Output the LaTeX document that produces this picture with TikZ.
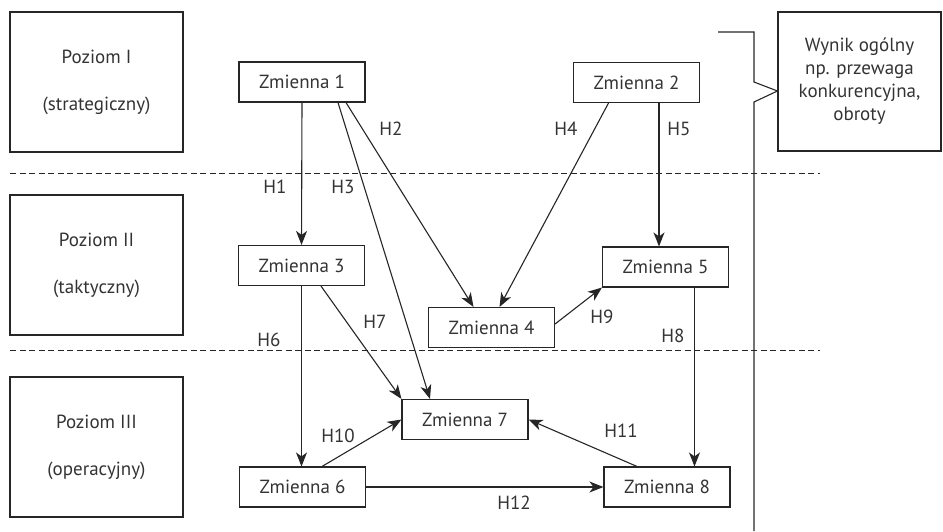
\documentclass[tikz,border=0pt]{standalone}
\usepackage{fontspec}
\setmainfont{PT Sans}
\usetikzlibrary{arrows.meta,calc}
\definecolor{ink}{HTML}{262626}
\definecolor{txt}{HTML}{333333}
\begin{document}
\begin{tikzpicture}[x=1pt,y=-1pt,
  every node/.style={font=\fontsize{19}{23}\selectfont, text=txt},
  varbox/.style={draw=ink, line width=1.1pt, minimum width=126pt, minimum height=40pt, inner sep=0pt},
  levelbox/.style={draw=ink, line width=1.1pt, minimum width=173pt, minimum height=140pt, inner sep=0pt, align=center},
  arr/.style={draw=ink, line width=1.1pt, -{Stealth[length=14pt,width=11pt,inset=4pt]}},
  sep/.style={draw=ink, line width=1pt, dash pattern=on 6pt off 3.5pt},
  hlabel/.style={inner sep=0pt}]
\useasboundingbox (0,0) rectangle (943,531);

% level boxes
\node[levelbox] (l1) at (96.5,82)  {Poziom I\\[24pt](strategiczny)};
\node[levelbox] (l2) at (96.5,265) {Poziom II\\[24pt](taktyczny)};
\node[levelbox] (l3) at (96.5,447) {Poziom III\\[24pt](operacyjny)};

% level separators
\coordinate (s1a) at (10,173);  \coordinate (s1b) at (820,173);
\coordinate (s2a) at (10,350);  \coordinate (s2b) at (820,350);
\draw[sep] (s1a) -- (s1b);
\draw[sep] (s2a) -- (s2b);

% overall result
\node[draw=ink, line width=1.1pt, minimum width=163pt, minimum height=139pt, inner sep=0pt, align=center]
  (wynik) at (859.5,81.5) {Wynik ogólny\\np. przewaga\\konkurencyjna,\\obroty};

% bracket leading to the overall result
\coordinate (b0) at (718,32);
\coordinate (b1) at (754,32);
\coordinate (b2) at (754,82);
\coordinate (b4) at (754,102);
\coordinate (b5) at (754,531);
\draw[draw=ink, line width=1.1pt] (b0) -- (b1) -- (b2) -- (wynik.west |- 0,91) -- (b4) -- (b5);

% variables
\node[varbox] (z1) at (302,82)    {Zmienna 1};
\node[varbox] (z2) at (636.5,82.5){Zmienna 2};
\node[varbox] (z3) at (301.5,265.5){Zmienna 3};
\node[varbox] (z4) at (491.5,327.5){Zmienna 4};
\node[varbox] (z5) at (665.5,267) {Zmienna 5};
\node[varbox] (z7) at (465,419.5) {Zmienna 7};
\node[varbox] (z6) at (302.5,487) {Zmienna 6};
\node[varbox] (z8) at (667,487)   {Zmienna 8};

% hypotheses
\draw[arr] (z1.south) -- (z3.north);
\draw[arr] ($(z1.south)+(36,0)$) -- ($(z7.north)+(-35,0)$);
\draw[arr] ($(z1.south)+(44,0)$) -- ($(z4.north)+(-18,0)$);
\draw[arr] ($(z2.south)+(-28,0)$) -- ($(z4.north)+(8,0)$);
\draw[arr] ($(z2.south)+(22.5,0)$) coordinate (h5a) -- (h5a |- z5.north);
\draw[arr] (z3.south) -- (z3.south |- z6.north);
\draw[arr] ($(z3.south)+(19.5,0)$) -- (z7.north west);
\draw[arr] ($(z4.east)+(0,-3.5)$) -- (z5.south west);
\draw[arr] ($(z5.south)+(29,0)$) coordinate (h8a) -- (h8a |- z8.north);
\draw[arr] ($(z6.north)+(19.5,0)$) -- (z7.west);
\draw[arr] ($(z8.north)+(-30,0)$) -- (z7.east);
\draw[arr] (z6.east) -- (z8.west);

% hypothesis labels
\node[hlabel] (t1)  at (275,187) {H1};
\node[hlabel] (t2)  at (391,129) {H2};
\node[hlabel] (t3)  at (343,187) {H3};
\node[hlabel] (t4)  at (566,129) {H4};
\node[hlabel] (t5)  at (679,129) {H5};
\node[hlabel] (t6)  at (269,340) {H6};
\node[hlabel] (t7)  at (375,322) {H7};
\node[hlabel] (t8)  at (673,336) {H8};
\node[hlabel] (t9)  at (602,317) {H9};
\node[hlabel] (t10) at (338,436) {H10};
\node[hlabel] (t11) at (621,431) {H11};
\node[hlabel] (t12) at (514,503) {H12};
\end{tikzpicture}
\end{document}
